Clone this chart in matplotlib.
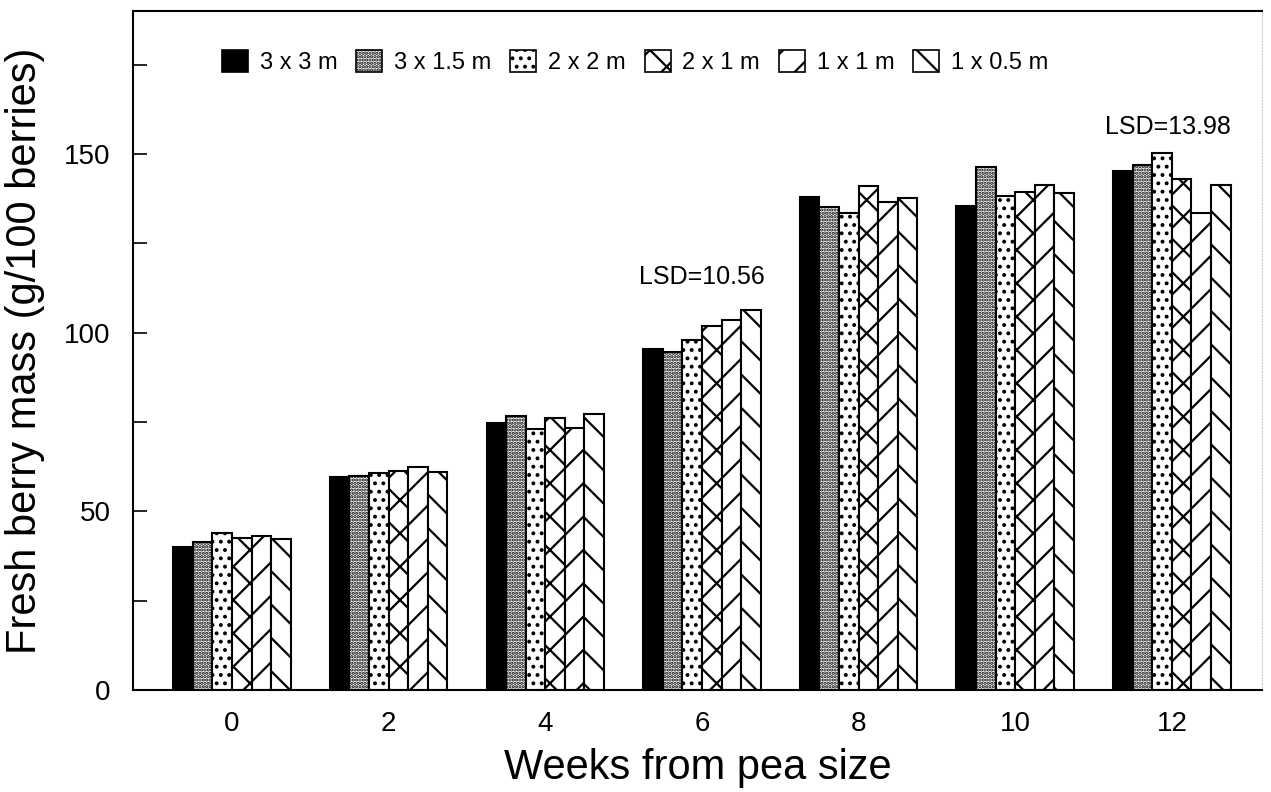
import numpy as np
import matplotlib.pyplot as plt
from matplotlib.patches import Patch

plt.rcParams['font.family'] = ['Liberation Sans', 'DejaVu Sans']
plt.rcParams['hatch.linewidth'] = 1.6

weeks = [0, 2, 4, 6, 8, 10, 12]
spacings = ["3 x 3 m", "3 x 1.5 m", "2 x 2 m", "2 x 1 m", "1 x 1 m", "1 x 0.5 m"]

# fresh berry mass (g/100 berries), one list per plant spacing
mass_3x3 = [40.0, 59.5, 74.7, 95.4, 138.0, 135.4, 145.2]
mass_3x15 = [41.4, 59.8, 76.8, 94.5, 135.2, 146.4, 146.9]
mass_2x2 = [43.9, 60.6, 73.0, 97.8, 133.6, 138.3, 150.4]
mass_2x1 = [42.6, 61.4, 76.2, 101.9, 140.9, 139.4, 142.9]
mass_1x1 = [43.2, 62.3, 73.3, 103.5, 136.6, 141.4, 133.6]
mass_1x05 = [42.3, 60.9, 77.3, 106.3, 137.7, 139.0, 141.2]
series = [mass_3x3, mass_3x15, mass_2x2, mass_2x1, mass_1x1, mass_1x05]

lsd_labels = ["LSD=10.56", "LSD=13.98"]
lsd_x = [6, 11.95]
lsd_y = [115.5, 157.5]

styles = [
    dict(facecolor="black", hatch=None),
    dict(facecolor="white", hatch="....."),
    dict(facecolor="white", hatch=".."),
    dict(facecolor="white", hatch="x"),
    dict(facecolor="white", hatch="/"),
    dict(facecolor="white", hatch="\\"),
]

fig = plt.figure(figsize=(12.71, 7.92), dpi=100)
ax = fig.add_axes([0.1046, 0.1288, 0.8883, 0.8573])

w = 0.25
x = np.array(weeks, dtype=float)
for i, vals in enumerate(series):
    ax.bar(x + (i - 2.5) * w, vals, width=w, edgecolor="black",
           linewidth=1.5, **styles[i])

for lab, lx, ly in zip(lsd_labels, lsd_x, lsd_y):
    ax.text(lx, ly, lab, ha="center", va="center", fontsize=18)

handles = [Patch(edgecolor="black", linewidth=1.2, **s) for s in styles]
ax.legend(handles, spacings, loc="center left", bbox_to_anchor=(0.079, 0.925),
          ncol=6, frameon=False, fontsize=17, handlelength=1.1, handleheight=1.1,
          handletextpad=0.5, columnspacing=0.8, borderpad=0, borderaxespad=0)

ax.set_xlim(-1.264, 13.15)
ax.set_ylim(0, 190)
ax.set_xticks(weeks)
ax.set_yticks([0, 50, 100, 150])
ax.set_yticks([25, 75, 125, 175], minor=True)
ax.tick_params(axis="x", length=0, labelsize=20, pad=15)
ax.tick_params(axis="y", which="both", direction="in", length=10, width=1.2,
               labelsize=20, pad=16)
ax.spines["right"].set_color("#cccccc")
ax.spines["right"].set_linestyle(":")
for s in ["left", "bottom", "top"]:
    ax.spines[s].set_linewidth(1.5)

ax.set_xlabel("Weeks from pea size", fontsize=30, labelpad=8)
ax.set_ylabel("Fresh berry mass (g/100 berries)", fontsize=30, labelpad=14)

plt.savefig("out.png", dpi=100)
